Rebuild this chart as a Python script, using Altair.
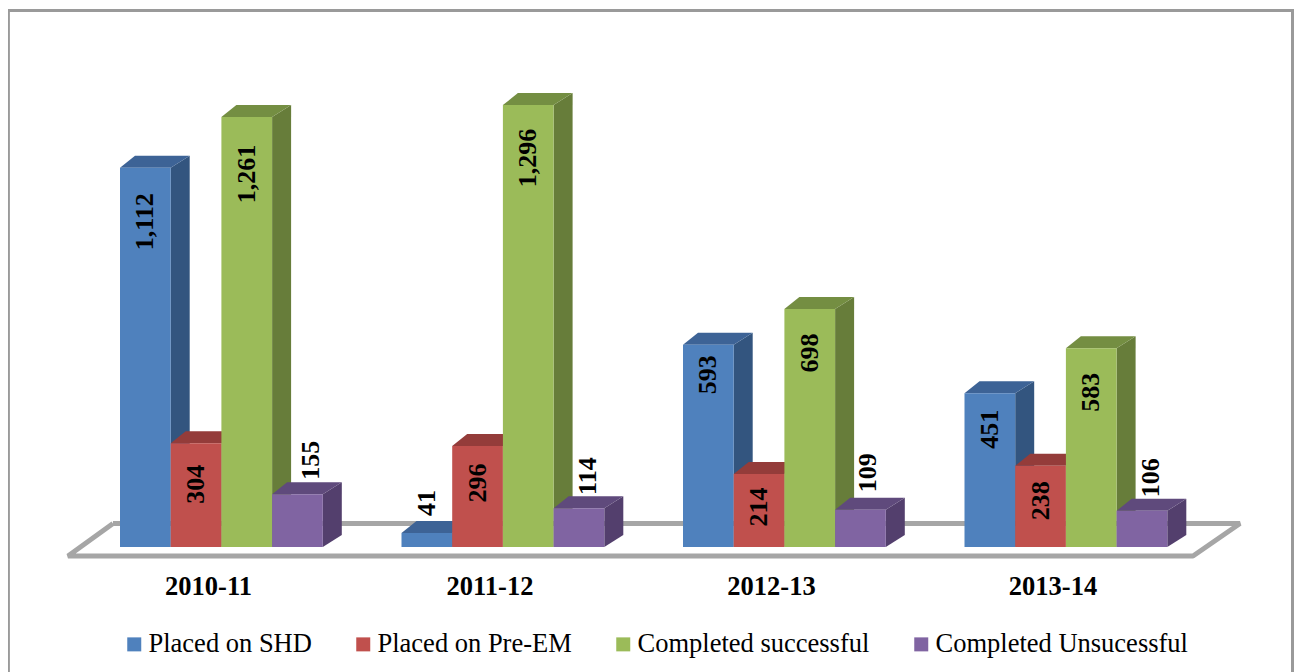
import json
import altair as alt
import pandas as pd

YEARS = ["2010-11", "2011-12", "2012-13", "2013-14"]
SERIES = ["Placed on SHD", "Placed on Pre-EM", "Completed successful", "Completed Unsucessful"]
SHD = [1112, 41, 593, 451]
PRE_EM = [304, 296, 214, 238]
DONE_OK = [1261, 1296, 698, 583]
DONE_BAD = [155, 114, 109, 106]
VALUES = [SHD, PRE_EM, DONE_OK, DONE_BAD]

FRONT = ["#4F81BD", "#C0504D", "#9BBB59", "#8064A2"]
SIDE = ["#33557F", "#8F3A38", "#677D3A", "#533F6D"]
TOP = ["#3D6396", "#943C3A", "#748E42", "#5F4A7C"]

# geometry of the fake 3-D projection, in screen pixels
W, H = 1286, 552
PITCH = 281.5        # distance between groups
BAR = 50.7           # bar width
K = 0.341            # px per value unit
Y0 = 539.0           # baseline in plot px
X0 = 200.0           # first category centre in plot px
BAR_START = -88.0    # first bar's left edge relative to category centre
DXL, DXR, DY = 15.0, 19.0, 12.0

# label centre relative to bar top (px below top; negative = above), and sideways shift
DROP = [[54, -30, 30, 36], [41, 37, 33, 35], [57, 53, 44, 44], [-34, -32, -37, -33]]
SHIFT = [[0, 0, 0, 0], [0, 0, 0, 0], [0, 0, 0, 0], [14, 9, 8, 9]]


def u(px):
    return px / PITCH


def v(px):
    return px / K


x_dom = [(0 - X0) / PITCH, (W - X0) / PITCH]
y_dom = [(Y0 - H) / K, Y0 / K]
xs = alt.Scale(domain=x_dom, range=[0, W], nice=False, zero=False)
ys = alt.Scale(domain=y_dom, range=[H, 0], nice=False, zero=False)
axis = alt.Axis(
    values=[0, 1, 2, 3],
    labelExpr=json.dumps(YEARS) + "[datum.value]",
    domain=False, ticks=False, grid=False, title=None,
    labelFont="Liberation Serif", labelFontSize=26.5, labelFontWeight="bold",
    labelColor="black", labelPadding=13, labelFlush=False, labelOverlap=False,
)
X = alt.X("x:Q", scale=xs, axis=axis)
Y = alt.Y("y:Q", scale=ys, axis=None, stack=None)

layers = []

# page frame
layers.append(alt.Chart(pd.DataFrame({"a": [0]})).mark_rule(color="#9a9a9a", strokeWidth=3).encode(
    x=alt.value(0.4), y=alt.value(2), y2=alt.value(664)))
layers.append(alt.Chart(pd.DataFrame({"a": [0]})).mark_rule(color="#9a9a9a", strokeWidth=3).encode(
    x=alt.value(1284.5), y=alt.value(2), y2=alt.value(664)))
layers.append(alt.Chart(pd.DataFrame({"a": [0]})).mark_rule(color="#9a9a9a", strokeWidth=3).encode(
    x=alt.value(0), x2=alt.value(1286), y=alt.value(2.5)))

# floor frame
fx = [u(105 - X0), u(1232 - X0), u(1185 - X0), u(60 - X0), u(105 - X0)]
fy = [v(Y0 - 515.5), v(Y0 - 515.5), v(Y0 - 548), v(Y0 - 548), v(Y0 - 515.5)]
floor = pd.DataFrame({"x": fx, "y": fy, "o": range(5)})
layers.append(alt.Chart(floor).mark_line(color="#a6a6a6", strokeWidth=5, strokeJoin="bevel").encode(
    x=X, y=Y, order="o:Q"))

labels = []
for j, s in enumerate(SERIES):
    side, top, front = [], [], []
    for i, val in enumerate(VALUES[j]):
        l = i + u(BAR_START + j * BAR)
        r = l + u(BAR)
        d = v(DY)
        side += [dict(b=i, x=r, y=val, y2=0), dict(b=i, x=r + u(DXR), y=val + d, y2=d)]
        top += [
            dict(b=i, x=l, y=val, y2=val),
            dict(b=i, x=l + u(DXL), y=val + d, y2=val),
            dict(b=i, x=r, y=val + d, y2=val),
            dict(b=i, x=r + u(DXR), y=val + d, y2=val + d),
        ]
        front.append(dict(b=i, x=l, x2=r, y=val, y2=0, s=s))
        labels.append(dict(
            x=(l + r) / 2 + u(SHIFT[j][i]),
            y=val - v(DROP[j][i]),
            t=f"{val:,}",
        ))
    layers.append(alt.Chart(pd.DataFrame(side)).mark_area(color=SIDE[j], opacity=1).encode(
        x=X, y=Y, y2="y2:Q", detail="b:N"))
    layers.append(alt.Chart(pd.DataFrame(top)).mark_area(color=TOP[j], opacity=1).encode(
        x=X, y=Y, y2="y2:Q", detail="b:N"))
    layers.append(alt.Chart(pd.DataFrame(front)).mark_rect().encode(
        x=X, x2="x2:Q", y=Y, y2="y2:Q",
        color=alt.Color(
            "s:N",
            scale=alt.Scale(domain=SERIES, range=FRONT),
            legend=alt.Legend(
                orient="none", legendX=113, legendY=623, direction="horizontal", columns=4,
                title=None, columnPadding=38, symbolType="square", symbolSize=196,
                symbolStrokeWidth=0, symbolOpacity=1, labelOffset=1, padding=0,
                labelFont="Liberation Serif", labelFontSize=26.5, labelColor="black",
                labelLimit=400,
            ),
        ),
    ))

layers.append(alt.Chart(pd.DataFrame(labels)).mark_text(
    angle=270, align="center", baseline="middle", font="Liberation Serif",
    fontSize=26, fontWeight="bold", color="black",
).encode(x=X, y=Y, text="t:N"))

chart = alt.layer(*layers).properties(
    width=W, height=H,
    padding={"left": 0, "top": 0, "right": 0, "bottom": 112},
    autosize=alt.AutoSizeParams(type="none"),
).configure_view(stroke=None)

chart.save("out.html", embed_options={"renderer": "svg", "actions": False})
